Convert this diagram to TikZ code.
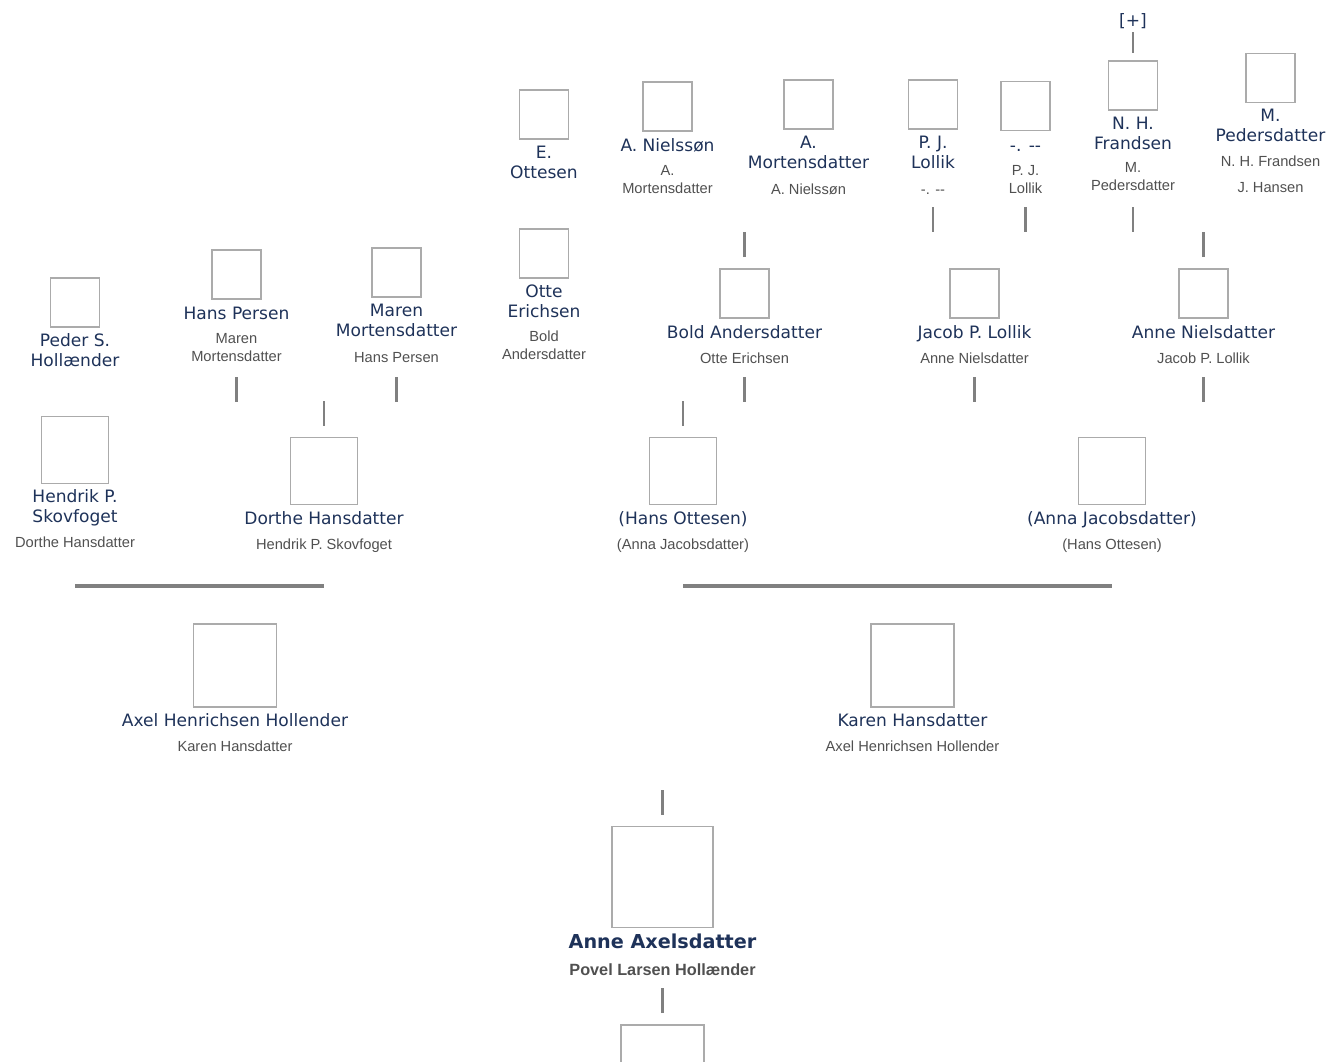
\documentclass[tikz,border=0pt]{standalone}
\usepackage{fontspec}
\setmainfont{DejaVu Sans}
\newfontfamily\aegtefamilie{Liberation Sans}
\usepackage{tikz}
\usetikzlibrary{positioning}
\definecolor{navnfarve}{HTML}{1E3259}
\definecolor{aegtefarve}{HTML}{505050}
\definecolor{boksgraa}{HTML}{ABABAB}
\definecolor{stregfarve}{HTML}{808080}
\newcommand\navnfont{\fontsize{12.8}{15}\selectfont}
\newcommand\aegtefont{\aegtefamilie\fontsize{11}{13.5}\selectfont}
\tikzset{
  boks/.style={draw=boksgraa, line width=1.2pt, minimum size=37pt, inner sep=0pt},
  boksm/.style={boks, minimum size=50pt},
  boksl/.style={boks, minimum size=62.5pt},
  boksrod/.style={boks, minimum size=76pt},
  navn/.style={text=navnfarve, font=\navnfont, align=center, inner sep=0pt, anchor=north,
    execute at begin node=\strut, execute at end node=\strut},
  aegte/.style={text=aegtefarve, font=\aegtefont, align=center, inner sep=0pt,
    execute at begin node=\strut, execute at end node=\strut},
  streg/.style={draw=stregfarve, line width=2.2pt}
}
\begin{document}
\begin{tikzpicture}[x=0.75pt,y=-0.75pt]
  \useasboundingbox (0,0) rectangle (1327,1061);
  \coordinate (r5) at (0,207);
  \coordinate (r4) at (0,377);
  \coordinate (hl) at (0,586);

  \node[boks] (eottesen) at (544,114.5) {};
  \node[navn] (eottesenn) at ([yshift=-4pt]eottesen.south) {E.\\Ottesen};
  \node[boks] (anielsson) at (667.5,106.5) {};
  \node[navn] (anielssonn) at ([yshift=-4pt]anielsson.south) {A. Nielssøn};
  \node[aegte, below=5.5pt of anielssonn] (anielssona) {A.\\Mortensdatter};
  \node[boks] (amortens) at (808.5,104.5) {};
  \node[navn] (amortensn) at ([yshift=-4pt]amortens.south) {A.\\Mortensdatter};
  \node[aegte, below=5.5pt of amortensn] (amortensa) {A. Nielssøn};
  \node[boks] (pjlollik) at (933,104.5) {};
  \node[navn] (pjlollikn) at ([yshift=-4pt]pjlollik.south) {P. J.\\Lollik};
  \node[aegte, below=5.5pt of pjlollikn] (pjlollika) {-. -{}-};
  \node[boks] (ukendt) at (1025.5,106) {};
  \node[navn] (ukendtn) at ([yshift=-4pt]ukendt.south) {-. -{}-};
  \node[aegte, below=5.5pt of ukendtn] (ukendta) {P. J.\\Lollik};
  \node[boks] (frandsen) at (1133,85.5) {};
  \node[navn] (frandsenn) at ([yshift=-4pt]frandsen.south) {N. H.\\Frandsen};
  \node[aegte, below=5.5pt of frandsenn] (frandsena) {M.\\Pedersdatter};
  \node[boks] (mpeders) at (1270.5,78) {};
  \node[navn] (mpedersn) at ([yshift=-4pt]mpeders.south) {M.\\Pedersdatter};
  \node[aegte, below=5.5pt of mpedersn] (mpedersa) {N. H. Frandsen\\[6pt]J. Hansen};
  \node[navn, anchor=base] (plus) at (1133,26) {[+]};
  \draw[streg, line width=1.8pt] (plus.south) -- ([yshift=5.25pt]frandsen.north);

  \node[boks] (peder) at (75,302.5) {};
  \node[navn] (pedern) at ([yshift=-4pt]peder.south) {Peder S.\\Hollænder};
  \node[boks] (hanspersen) at (236.5,274.5) {};
  \node[navn] (hanspersenn) at ([yshift=-4pt]hanspersen.south) {Hans Persen};
  \node[aegte, below=5.5pt of hanspersenn] (hanspersena) {Maren\\Mortensdatter};
  \node[boks] (maren) at (396.5,272.5) {};
  \node[navn] (marenn) at ([yshift=-4pt]maren.south) {Maren\\Mortensdatter};
  \node[aegte, below=5.5pt of marenn] (marena) {Hans Persen};
  \node[boks] (otte) at (544,253.5) {};
  \node[navn] (otten) at ([yshift=-4pt]otte.south) {Otte\\Erichsen};
  \node[aegte, below=5.5pt of otten] (ottea) {Bold\\Andersdatter};
  \node[boks] (bold) at (744.5,293.5) {};
  \node[navn] (boldn) at ([yshift=-4pt]bold.south) {Bold Andersdatter};
  \node[aegte, below=4.5pt of boldn] (bolda) {Otte Erichsen};
  \node[boks] (jacob) at (974.5,293.5) {};
  \node[navn] (jacobn) at ([yshift=-4pt]jacob.south) {Jacob P. Lollik};
  \node[aegte, below=4.5pt of jacobn] (jacoba) {Anne Nielsdatter};
  \node[boks] (annen) at (1203.5,293.5) {};
  \node[navn] (annenn) at ([yshift=-4pt]annen.south) {Anne Nielsdatter};
  \node[aegte, below=4.5pt of annenn] (annena) {Jacob P. Lollik};

  \node[boksm] (hendrik) at (75,450) {};
  \node[navn] (hendrikn) at ([yshift=-4pt]hendrik.south) {Hendrik P.\\Skovfoget};
  \node[aegte, below=4.5pt of hendrikn] (hendrika) {Dorthe Hansdatter};
  \node[boksm] (dorthe) at (324,471) {};
  \node[navn] (dorthen) at ([yshift=-4pt]dorthe.south) {Dorthe Hansdatter};
  \node[aegte, below=4.5pt of dorthen] (dorthea) {Hendrik P. Skovfoget};
  \node[boksm] (hans) at (683,471) {};
  \node[navn] (hansn) at ([yshift=-4pt]hans.south) {(Hans Ottesen)};
  \node[aegte, below=4.5pt of hansn] (hansa) {(Anna Jacobsdatter)};
  \node[boksm] (anna) at (1112,471) {};
  \node[navn] (annan) at ([yshift=-4pt]anna.south) {(Anna Jacobsdatter)};
  \node[aegte, below=4.5pt of annan] (annaa) {(Hans Ottesen)};

  \node[boksl] (axel) at (235,665.5) {};
  \node[navn] (axeln) at ([yshift=-3pt]axel.south) {Axel Henrichsen Hollender};
  \node[aegte, below=4.5pt of axeln] (axela) {Karen Hansdatter};
  \node[boksl] (karen) at (912.5,665.5) {};
  \node[navn] (karenn) at ([yshift=-3pt]karen.south) {Karen Hansdatter};
  \node[aegte, below=4.5pt of karenn] (karena) {Axel Henrichsen Hollender};

  \node[boksrod] (anne) at (662.5,877) {};
  \node[navn, font=\fontsize{14.4}{15}\bfseries] (annen2) at ([yshift=-4pt]anne.south) {Anne Axelsdatter};
  \node[aegte, font=\aegtefamilie\fontsize{12.2}{13.5}\bfseries, below=5.75pt of annen2] (annea) {Povel Larsen Hollænder};
  \node[boksl] (barn) at (662.5,1066.5) {};

  \draw[streg] (pjlollik |- r5) -- ++(0,25);
  \draw[streg] (ukendt |- r5) -- ++(0,25);
  \draw[streg] (frandsen |- r5) -- ++(0,25);
  \draw[streg] ([yshift=8.25pt]bold.north) -- ++(0,-25);
  \draw[streg] ([yshift=8.25pt]annen.north) -- ++(0,-25);
  \draw[streg] (hanspersen |- r4) -- ++(0,25);
  \draw[streg] (maren |- r4) -- ++(0,25);
  \draw[streg] (bold |- r4) -- ++(0,25);
  \draw[streg] (jacob |- r4) -- ++(0,25);
  \draw[streg] (annen |- r4) -- ++(0,25);
  \draw[streg] ([yshift=8.25pt]dorthe.north) -- ++(0,-25);
  \draw[streg] ([yshift=8.25pt]hans.north) -- ++(0,-25);
  \draw[streg, line width=3pt] (hendrik |- hl) -- (dorthe |- hl);
  \draw[streg, line width=3pt] (hans |- hl) -- (anna |- hl);
  \draw[streg] ([yshift=8.25pt]anne.north) -- ++(0,-25);
  \draw[streg] ([yshift=8.25pt]barn.north) -- ++(0,-25);
\end{tikzpicture}
\end{document}
